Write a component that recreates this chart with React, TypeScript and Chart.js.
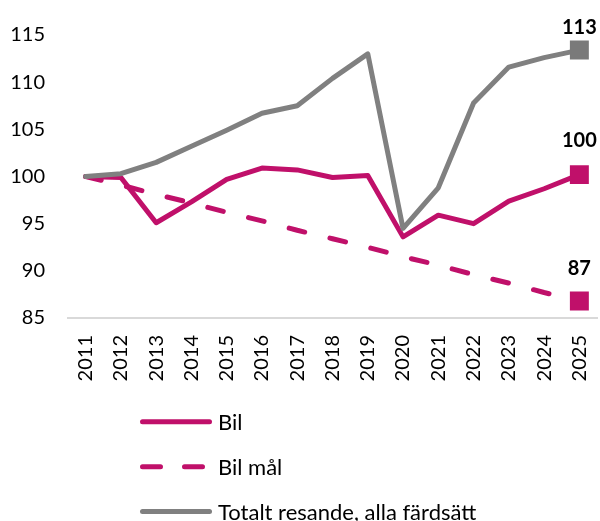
import React, { useEffect, useRef } from "react";
import { Chart, registerables } from "chart.js";

Chart.register(...registerables);

const years = ["2011", "2012", "2013", "2014", "2015", "2016", "2017", "2018", "2019", "2020", "2021", "2022", "2023", "2024", "2025"];
const bil = [100, 99.9, 95.1, 97.3, 99.7, 100.9, 100.7, 99.9, 100.1, 93.6, 95.9, 95.0, 97.4, 98.7, 100.2];
const bilMal = [100, 99.1, 98.1, 97.2, 96.2, 95.3, 94.3, 93.4, 92.5, 91.5, 90.6, 89.6, 88.7, 87.7, 86.8];
const totalt = [100, 100.3, 101.5, 103.2, 104.9, 106.7, 107.5, 110.4, 113.0, 94.5, 98.8, 107.8, 111.6, 112.6, 113.4];
const seriesLabels = ["Bil", "Bil mål", "Totalt resande, alla färdsätt"];
const yMin = 85;
const yMax = 115;
const yStep = 5;

const MAGENTA = "#C0106A";
const GRAY = "#808080";
const FONT = "Lato, 'Open Sans', sans-serif";

const lastLabelPlugin = {
  id: "lastLabel",
  afterDatasetsDraw(chart: any) {
    const ctx = chart.ctx;
    ctx.save();
    ctx.font = `bold 20px ${FONT}`;
    ctx.fillStyle = "#000";
    ctx.textAlign = "center";
    ctx.textBaseline = "middle";
    chart.data.datasets.forEach((ds: any, i: number) => {
      const meta = chart.getDatasetMeta(i);
      const n = ds.data.length - 1;
      const pt = meta.data[n];
      if (!pt) return;
      ctx.fillText(String(Math.round(ds.data[n])), pt.x, pt.y - (ds.labelOffset || 25));
    });
    ctx.restore();
  },
};

export default function App() {
  const canvasRef = useRef<HTMLCanvasElement | null>(null);

  useEffect(() => {
    if (!canvasRef.current) return;
    const last = years.length - 1;
    const radius = (c: any) => (c.dataIndex === last ? 13.4 : 0);
    const common = {
      borderWidth: 5,
      borderCapStyle: "round",
      borderJoinStyle: "round",
      pointStyle: "rect",
      pointRadius: radius,
      pointHoverRadius: radius,
      pointBorderWidth: 0,
      tension: 0,
      fill: false,
    };
    const chart = new Chart(canvasRef.current, {
      type: "line",
      data: {
        labels: years,
        datasets: [
          {
            ...common,
            label: seriesLabels[0],
            data: bil,
            borderColor: MAGENTA,
            backgroundColor: MAGENTA,
            pointBackgroundColor: MAGENTA,
            order: 1,
            labelOffset: 34.5,
          } as any,
          {
            ...common,
            label: seriesLabels[1],
            data: bilMal,
            borderColor: MAGENTA,
            backgroundColor: MAGENTA,
            pointBackgroundColor: MAGENTA,
            borderDash: [16, 26],
            order: 2,
            labelOffset: 32.7,
          } as any,
          {
            ...common,
            label: seriesLabels[2],
            data: totalt,
            borderColor: GRAY,
            backgroundColor: GRAY,
            pointBackgroundColor: "#7A7A7A",
            order: 0,
            labelOffset: 23,
          } as any,
        ],
      },
      options: {
        responsive: false,
        animation: false,
        events: [],
        layout: { autoPadding: false, padding: { left: 10, right: 3, top: 34, bottom: 0 } },
        plugins: {
          legend: { display: false },
          tooltip: { enabled: false },
        },
        scales: {
          x: {
            offset: true,
            grid: { display: false, drawTicks: false },
            border: { display: true, color: "#D9D9D9", width: 2 },
            ticks: {
              color: "#000",
              font: { family: FONT, size: 20 },
              minRotation: 90,
              maxRotation: 90,
              padding: 17,
              autoSkip: false,
            },
            afterFit: (s: any) => {
              s.height = 72;
              s.paddingLeft = 0;
              s.paddingRight = 0;
            },
          },
          y: {
            min: yMin,
            max: yMax,
            grid: { display: false, drawTicks: false },
            border: { display: false },
            ticks: {
              stepSize: yStep,
              color: "#000",
              font: { family: FONT, size: 20 },
              padding: 23,
            },
            afterFit: (s: any) => {
              s.width = 58;
            },
          },
        },
      } as any,
      plugins: [lastLabelPlugin],
    });
    return () => chart.destroy();
  }, []);

  const rows = [421.7, 466.7, 511.5];
  return (
    <div style={{ position: "fixed", left: 0, top: 0, width: 600, height: 521, overflow: "hidden", fontFamily: FONT, background: "#fff" }}>
      <canvas ref={canvasRef} width={600} height={390} style={{ display: "block" }} />
      <svg width={600} height={521} style={{ position: "absolute", left: 0, top: 0, pointerEvents: "none" }}>
        <line x1={142.5} y1={rows[0]} x2={209.5} y2={rows[0]} stroke={MAGENTA} strokeWidth={5} strokeLinecap="round" />
        <line x1={142.5} y1={rows[1]} x2={209.5} y2={rows[1]} stroke={MAGENTA} strokeWidth={5} strokeLinecap="round" strokeDasharray="18 24" />
        <line x1={142.5} y1={rows[2]} x2={209.5} y2={rows[2]} stroke={GRAY} strokeWidth={5} strokeLinecap="round" />
      </svg>
      {seriesLabels.map((t, i) => (
        <div
          key={t}
          style={{
            position: "absolute",
            left: 218,
            top: rows[i] - 13,
            height: 26,
            lineHeight: "26px",
            fontSize: 22,
            color: "#000",
            whiteSpace: "nowrap",
          }}
        >
          {t}
        </div>
      ))}
    </div>
  );
}
